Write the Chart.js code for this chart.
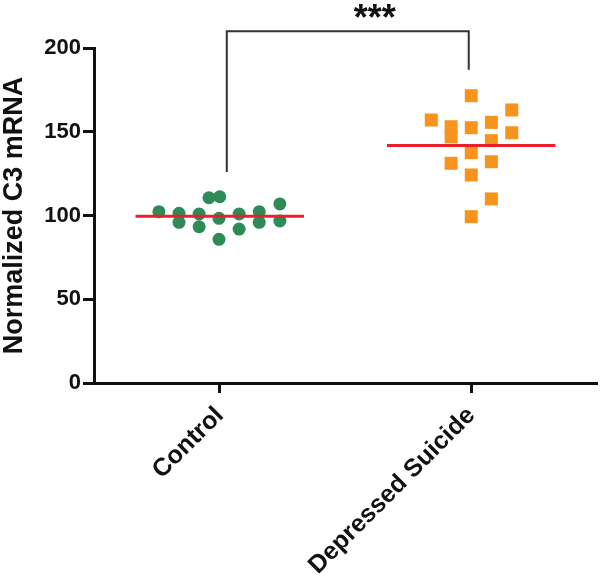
<!DOCTYPE html>
<html>
<head>
<meta charset="utf-8">
<script src="https://cdn.jsdelivr.net/npm/chart.js@4/dist/chart.umd.min.js"></script>
<style>
  html, body { margin: 0; padding: 0; background: #ffffff; }
  #wrap { width: 600px; height: 580px; }
</style>
</head>
<body>
<div id="wrap"><canvas id="c3-chart" width="600" height="580"></canvas></div>
<script>
// ── Data ──────────────────────────────────────────────────────
const categories = ['Control', 'Depressed Suicide'];

// x = group position (1, 2) plus the scatter jitter seen in the figure
const controlX = [0.758, 0.838, 0.838, 0.918, 0.918, 0.957, 1.0, 0.997, 0.997, 1.077, 1.077, 1.157, 1.157, 1.239, 1.239];
const controlY = [102.3, 101.3, 95.9, 100.9, 93.3, 110.6, 111.2, 98.3, 85.8, 100.9, 91.9, 102.3, 95.9, 106.9, 96.7];

const suicideX = [2.0, 1.841, 2.161, 1.920, 1.920, 2.0, 2.080, 2.080, 2.161, 2.0, 1.920, 2.080, 2.0, 2.080, 2.0];
const suicideY = [171.5, 157.0, 163.0, 153.0, 147.0, 152.4, 155.6, 144.7, 149.4, 137.5, 131.2, 132.1, 124.2, 109.9, 99.3];

const yTicks = [0, 50, 100, 150, 200];
const meanHalfWidth = 0.335;

// significance bracket (data units)
const bracketX = [1.028, 1.99];
const bracketTop = 210;
const bracketLegBottom = [126, 187];
const sigLabel = '***';
const sigLabelAt = { x: 1.616, y: 211 }; // baseline

// ── Helpers ───────────────────────────────────────────────────
const FONT = "'Liberation Sans', Arial, sans-serif";
const mean = arr => arr.reduce((s, v) => s + v, 0) / arr.length;
const points = (xs, ys) => xs.map((x, i) => ({ x, y: ys[i] }));
const meanLine = (center, ys) => [
  { x: center - meanHalfWidth, y: mean(ys) },
  { x: center + meanHalfWidth, y: mean(ys) },
];

// ── Bracket plugin ────────────────────────────────────────────
const bracketPlugin = {
  id: 'bracket',
  afterDraw(chart) {
    const { ctx, scales: { x, y } } = chart;
    const xl = x.getPixelForValue(bracketX[0]);
    const xr = x.getPixelForValue(bracketX[1]);
    const yt = y.getPixelForValue(bracketTop);
    ctx.save();
    ctx.strokeStyle = '#333333';
    ctx.lineWidth = 2;
    ctx.beginPath();
    ctx.moveTo(xl, y.getPixelForValue(bracketLegBottom[0]));
    ctx.lineTo(xl, yt);
    ctx.lineTo(xr, yt);
    ctx.lineTo(xr, y.getPixelForValue(bracketLegBottom[1]));
    ctx.stroke();
    ctx.fillStyle = '#111111';
    ctx.font = `bold 36px ${FONT}`;
    ctx.textAlign = 'center';
    ctx.textBaseline = 'alphabetic';
    ctx.fillText(sigLabel, x.getPixelForValue(sigLabelAt.x), y.getPixelForValue(sigLabelAt.y));
    ctx.restore();
  },
};

// ── Chart ─────────────────────────────────────────────────────
new Chart(document.getElementById('c3-chart'), {
  type: 'scatter',
  data: {
    datasets: [
      {
        type: 'line', label: 'Control mean',
        data: meanLine(1, controlY),
        borderColor: '#E8202A', borderWidth: 3, pointRadius: 0, fill: false,
      },
      {
        type: 'line', label: 'Suicide mean',
        data: meanLine(2, suicideY),
        borderColor: '#E8202A', borderWidth: 3, pointRadius: 0, fill: false,
      },
      {
        label: categories[0],
        data: points(controlX, controlY),
        pointStyle: 'circle', pointRadius: 6.5,
        backgroundColor: '#2E8B57', borderWidth: 0,
      },
      {
        label: categories[1],
        data: points(suicideX, suicideY),
        pointStyle: 'rect', pointRadius: 9.2,
        backgroundColor: '#F7941D', borderWidth: 0,
      },
    ],
  },
  options: {
    responsive: false,
    animation: false,
    layout: { autoPadding: false, padding: { top: 48, right: 3, left: 0, bottom: 0 } },
    plugins: { legend: { display: false }, tooltip: { enabled: false } },
    scales: {
      x: {
        type: 'linear', min: 0.5, max: 2.5,
        afterBuildTicks: s => { s.ticks = categories.map((_, i) => ({ value: i + 1 })); },
        afterFit: s => { s.height = 197; s.paddingLeft = 0; s.paddingRight = 0; },
        border: { color: '#111111', width: 3 },
        grid: { drawOnChartArea: false, drawTicks: true, tickLength: 10, tickColor: '#111111', tickWidth: 3 },
        ticks: {
          color: '#111111', minRotation: 45, maxRotation: 45, padding: 8,
          font: { family: FONT, size: 25, weight: 'bold' },
          callback: v => categories[Math.round(v) - 1] || '',
        },
      },
      y: {
        type: 'linear', min: 0, max: 200,
        afterBuildTicks: s => { s.ticks = yTicks.map(v => ({ value: v })); },
        afterFit: s => { s.width = 94; },
        border: { color: '#111111', width: 3 },
        grid: { drawOnChartArea: false, drawTicks: true, tickLength: 11, tickColor: '#111111', tickWidth: 3 },
        ticks: { color: '#111111', padding: 2, font: { family: FONT, size: 22, weight: 'bold' } },
        title: {
          display: true, text: 'Normalized C3 mRNA', color: '#111111',
          padding: 0, font: { family: FONT, size: 27, weight: 'bold', lineHeight: 1.1 },
        },
      },
    },
  },
  plugins: [bracketPlugin],
});
</script>
</body>
</html>
